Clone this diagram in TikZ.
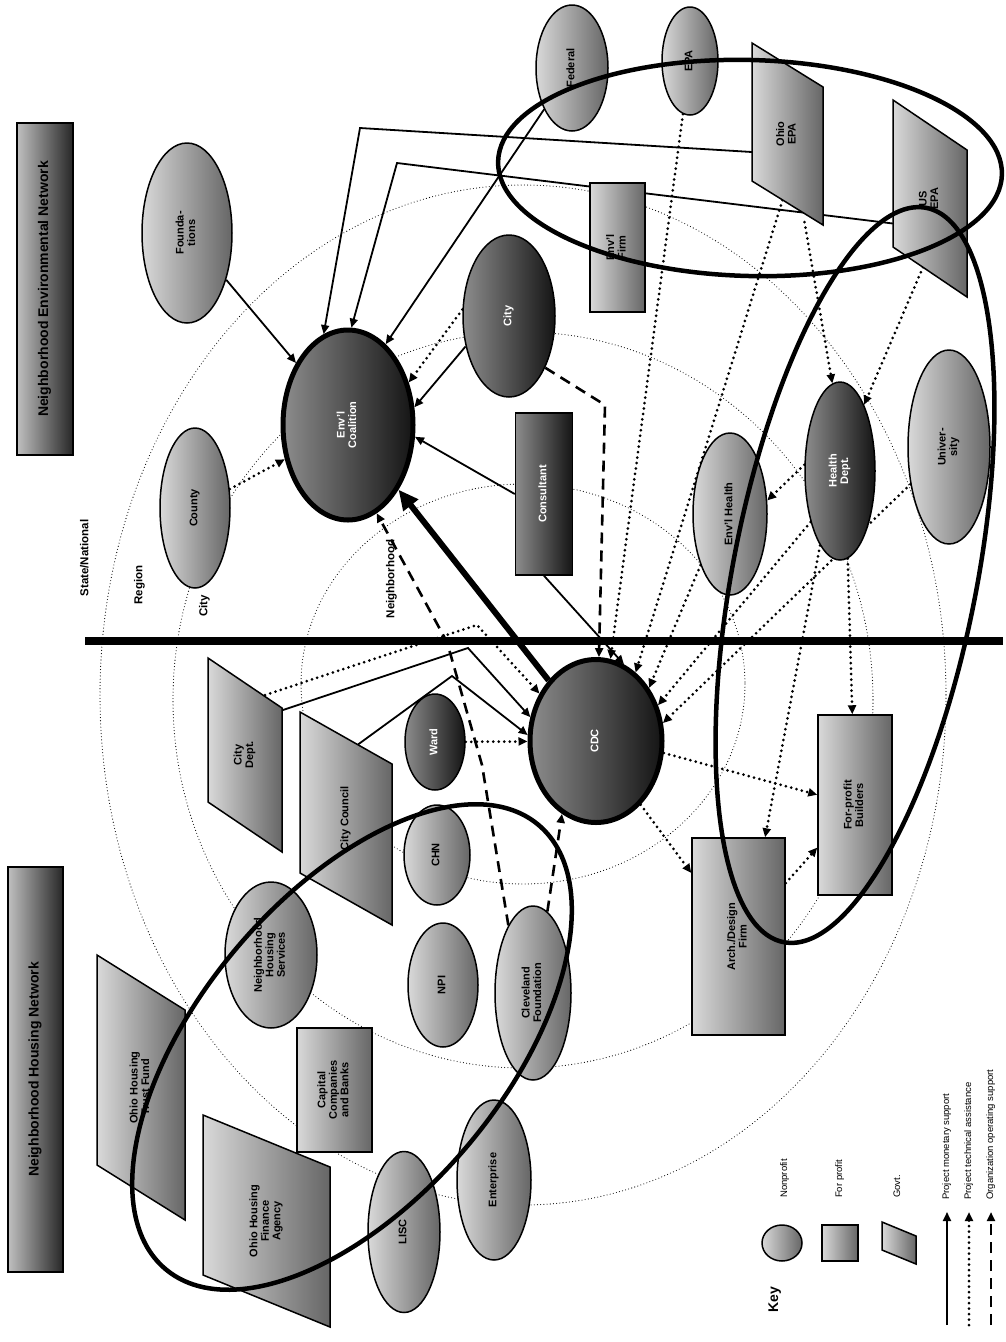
\documentclass[tikz,border=0pt]{standalone}
\usepackage{fontspec}
\setmainfont{Liberation Sans}
\usepackage{graphicx}
\usetikzlibrary{arrows.meta,shapes.geometric,calc}
\pgfdeclarelayer{bg}
\pgfsetlayers{bg,main}
\newcommand\vt[1]{\rotatebox{90}{\begin{tabular}{@{}c@{}}#1\end{tabular}}}
\begin{document}
\begin{tikzpicture}[x=1pt,y=-1pt,
  base/.style={draw=black,line width=1.5pt,inner sep=0pt,font=\bfseries\fontsize{11}{11.5}\selectfont,left color=black!15,right color=black!60},
  dark/.style={left color=black!45,right color=black!92,text=white},
  np/.style={base,ellipse},
  fp/.style={base,rectangle},
  gvtext/.style={inner sep=0pt,font=\bfseries\fontsize{11}{11.5}\selectfont},
  govshape/.style={draw=black,line width=1.5pt,left color=black!15,right color=black!60},
  tip/.style={-{Triangle[length=9pt,width=8pt]}},
  money/.style={line width=1.8pt,tip},
  ta/.style={line width=3pt,line cap=round,dash pattern=on 0pt off 5.5pt,tip},
  ops/.style={line width=2.6pt,dash pattern=on 11pt off 7pt,tip},
  ring/.style={line width=1.1pt,line cap=round,dash pattern=on 0pt off 3.2pt},
  big/.style={line width=4.5pt},
  ringlbl/.style={inner sep=0pt,font=\bfseries\fontsize{11.5}{12}\selectfont},
  keytxt/.style={inner sep=0pt,font=\fontsize{9.5}{10}\selectfont,anchor=south}
]
\useasboundingbox (0,0) rectangle (1005,1342);

% titles
\node[fp,minimum width=56,minimum height=332,font=\bfseries\fontsize{14}{15}\selectfont,left color=black!25,right color=black!85] (title1) at (45,289) {\vt{Neighborhood Environmental Network}};
\node[fp,minimum width=55,minimum height=405,font=\bfseries\fontsize{14}{15}\selectfont,left color=black!25,right color=black!85] (title2) at (35.5,1069.5) {\vt{Neighborhood Housing Network}};

\node[ringlbl] (lsn) at (86,558) {\vt{State/National}};
\node[ringlbl] (lreg) at (140,585) {\vt{Region}};
\node[ringlbl] (lcity) at (205,606) {\vt{City}};
\node[ringlbl] (lnb) at (392,579) {\vt{Neighborhood}};

% government shapes
\draw[govshape] (203,1115) -- ++(127,52) -- ++(0,160) -- ++(-127,-52) -- cycle;
\draw[govshape] (97,955) -- ++(88,55) -- ++(0,210) -- ++(-88,-55) -- cycle;
\draw[govshape] (300,712) -- ++(92,52) -- ++(0,161) -- ++(-92,-52) -- cycle;
\draw[govshape] (208,658) -- ++(74,50) -- ++(0,144) -- ++(-74,-50) -- cycle;
\draw[govshape] (752,43) -- ++(71,44) -- ++(0,138) -- ++(-71,-44) -- cycle;
\draw[govshape] (893,100) -- ++(74,50) -- ++(0,147) -- ++(-74,-50) -- cycle;

\node[gvtext,minimum width=127,minimum height=212] (ohfa) at (266.5,1221) {\vt{Ohio Housing\\Finance\\Agency}};
\node[gvtext,minimum width=88,minimum height=265] (ohtf) at (141,1087.5) {\vt{Ohio Housing\\Trust Fund}};
\node[gvtext,minimum width=92,minimum height=213] (council) at (346,818.5) {\vt{City Council}};
\node[gvtext,minimum width=74,minimum height=194] (citydept) at (245,755) {\vt{City\\Dept.}};
\node[gvtext,minimum width=71,minimum height=182] (oepa) at (787.5,134) {\vt{Ohio\\EPA}};
\node[gvtext,minimum width=74,minimum height=197] (usepa) at (930,198.5) {\vt{US\\EPA}};

% nodes bottom half
\node[np,dark,minimum width=132,minimum height=163,line width=5pt] (cdc) at (596,741) {\vt{CDC}};
\node[fp,minimum width=75,minimum height=124] (capital) at (334.5,1090) {\vt{Capital\\Companies\\and Banks}};
\node[np,minimum width=72,minimum height=161] (lisc) at (404,1232) {\vt{LISC}};
\node[np,minimum width=74,minimum height=160] (enterprise) at (494,1180) {\vt{Enterprise}};
\node[np,minimum width=70,minimum height=124] (npi) at (443,985) {\vt{NPI}};
\node[np,minimum width=92,minimum height=146] (nhs) at (271,955) {\vt{Neighborhood\\Housing\\Services}};
\node[np,minimum width=76,minimum height=174] (clevf) at (533,993) {\vt{Cleveland\\Foundation}};
\node[np,minimum width=66,minimum height=100] (chn) at (437,855) {\vt{CHN}};
\node[np,dark,minimum width=60,minimum height=96] (ward) at (435,742) {\vt{Ward}};
\node[fp,minimum width=93,minimum height=197] (arch) at (738.5,936.5) {\vt{Arch./Design\\Firm}};
\node[fp,minimum width=74,minimum height=180] (builders) at (855,805) {\vt{For-profit\\Builders}};

% nodes top half
\node[np,dark,minimum width=130,minimum height=190,line width=5pt] (tnode) at (348,425) {\vt{Env'l\\Coalition}};
\node[np,minimum width=90,minimum height=180] (n30) at (187,233) {\vt{Founda-\\tions}};
\node[np,minimum width=70,minimum height=160] (n31) at (195,508) {\vt{County}};
\node[np,dark,minimum width=92,minimum height=162] (n23) at (509,316) {\vt{City}};
\node[fp,dark,minimum width=57,minimum height=162] (r22) at (544,494) {\vt{Consultant}};
\node[fp,minimum width=55,minimum height=129] (r24) at (617.5,247.5) {\vt{Env'l\\Firm}};
\node[np,minimum width=74,minimum height=162] (envh) at (730,514) {\vt{Env'l Health}};
\node[np,dark,minimum width=70,minimum height=178] (n20) at (840,471) {\vt{Health\\Dept.}};
\node[np,minimum width=82,minimum height=194] (n21) at (949,447) {\vt{Univer-\\sity}};
\node[np,minimum width=72,minimum height=126] (n27) at (572,68) {\vt{Federal}};
\node[np,minimum width=56,minimum height=108] (n28) at (690,61) {\vt{EPA}};

\begin{pgfonlayer}{bg}
% rings
\draw[ring] (523,695) ellipse [x radius=423, y radius=510];
\draw[ring] (523,700) ellipse [x radius=350, y radius=368];
\draw[ring] (523,684) ellipse [x radius=222, y radius=200];
% connectors
\draw[money] ($(citydept)+(35,-44)$) -- (468,648) -- (cdc.160);
\draw[money] ($(council)+(12,-74)$) -- (452,676) -- (cdc.175);
\draw[money] (r22.west) -- (tnode.-10);
\draw[money] (r22.south) -- (cdc.70);
\draw[money] (n30) -- (tnode);
\draw[money] ($(oepa.west)+(0,18)$) -- (360,128) -- (tnode.105);
\draw[money] ($(usepa.west)+(0,25)$) -- (397,163) -- (tnode.88);
\draw[money] (n27) -- (tnode.65);
\draw[money] (n23.215) -- (tnode.15);
\draw[line width=6pt,-{Triangle[length=20pt,width=18pt]}] (cdc.128) -- (tnode.-52);
\draw[ta] (n31) -- (tnode);
\draw[ta] (ward) -- (cdc);
\draw[ta] ($(citydept)+(20,-60)$) -- (477,625) -- (cdc.140);
\draw[ta] (cdc.-55) -- (arch);
\draw[ta] (cdc.-10) -- (builders);
\draw[ta] (arch) -- (builders);
\draw[ta] (n20.-85) -- (builders);
\draw[ta] (n20.-105) -- (arch.75);
\draw[ta] (n20.-120) -- (cdc.30);
\draw[ta] (n21) -- (cdc.15);
\draw[ta] (envh.-120) -- (cdc.45);
\draw[ta] (n28) -- (cdc.80);
\draw[ta] ($(oepa.south)+(-5,-25)$) -- (cdc.60);
\draw[ta] ($(oepa.south)+(17,-3)$) -- (n20.95);
\draw[ta] ($(usepa.south)+(-7,-30)$) -- (n20.70);
\draw[ta] (n20.170) -- (envh.20);
\draw[ta] (n23.172) -- (tnode.35);
\draw[ops] (n23.-55) -- (605,405) -- (cdc.88);
\draw[ops] (clevf.80) -- (cdc.-115);
\draw[ops] (clevf.110) -- (482,765) -- (447,642) -- (tnode.-72);
\end{pgfonlayer}

% divider
\draw[line width=8pt] (85,641) -- (1003,641);

% big ellipses
\draw[big, rotate around={50:(352,1047)}] (352,1047) ellipse [x radius=290, y radius=152];
\draw[big, rotate around={79:(855,575)}] (855,575) ellipse [x radius=374, y radius=122];
\draw[big, rotate around={-1.5:(750,168)}] (750,168) ellipse [x radius=252, y radius=108];

% key
\node[inner sep=0pt,font=\bfseries\fontsize{14}{15}\selectfont] (keyttl) at (775,1300) {\vt{Key}};
\node[np,minimum width=40,minimum height=36] (k1) at (782,1243) {};
\node[fp,minimum width=36,minimum height=36] (k2) at (840,1243) {};
\draw[govshape] (882,1222) -- ++(34,14) -- ++(0,28) -- ++(-34,-14) -- cycle;
\node[keytxt] (t1) at (785,1198) {\vt{Nonprofit}};
\node[keytxt] (t2) at (840,1198) {\vt{For profit}};
\node[keytxt] (t3) at (898,1198) {\vt{Govt.}};
\coordinate (ka1) at (947,1325); \coordinate (kb1) at (947,1212);
\coordinate (ka2) at (969,1325); \coordinate (kb2) at (969,1212);
\coordinate (ka3) at (991,1325); \coordinate (kb3) at (991,1212);
\draw[money] (ka1) -- (kb1);
\draw[ta] (ka2) -- (kb2);
\draw[ops] (ka3) -- (kb3);
\node[keytxt] (t4) at (947,1200) {\vt{Project monetary support}};
\node[keytxt] (t5) at (969,1200) {\vt{Project technical assistance}};
\node[keytxt] (t6) at (991,1200) {\vt{Organization operating support}};
\end{tikzpicture}
\end{document}
